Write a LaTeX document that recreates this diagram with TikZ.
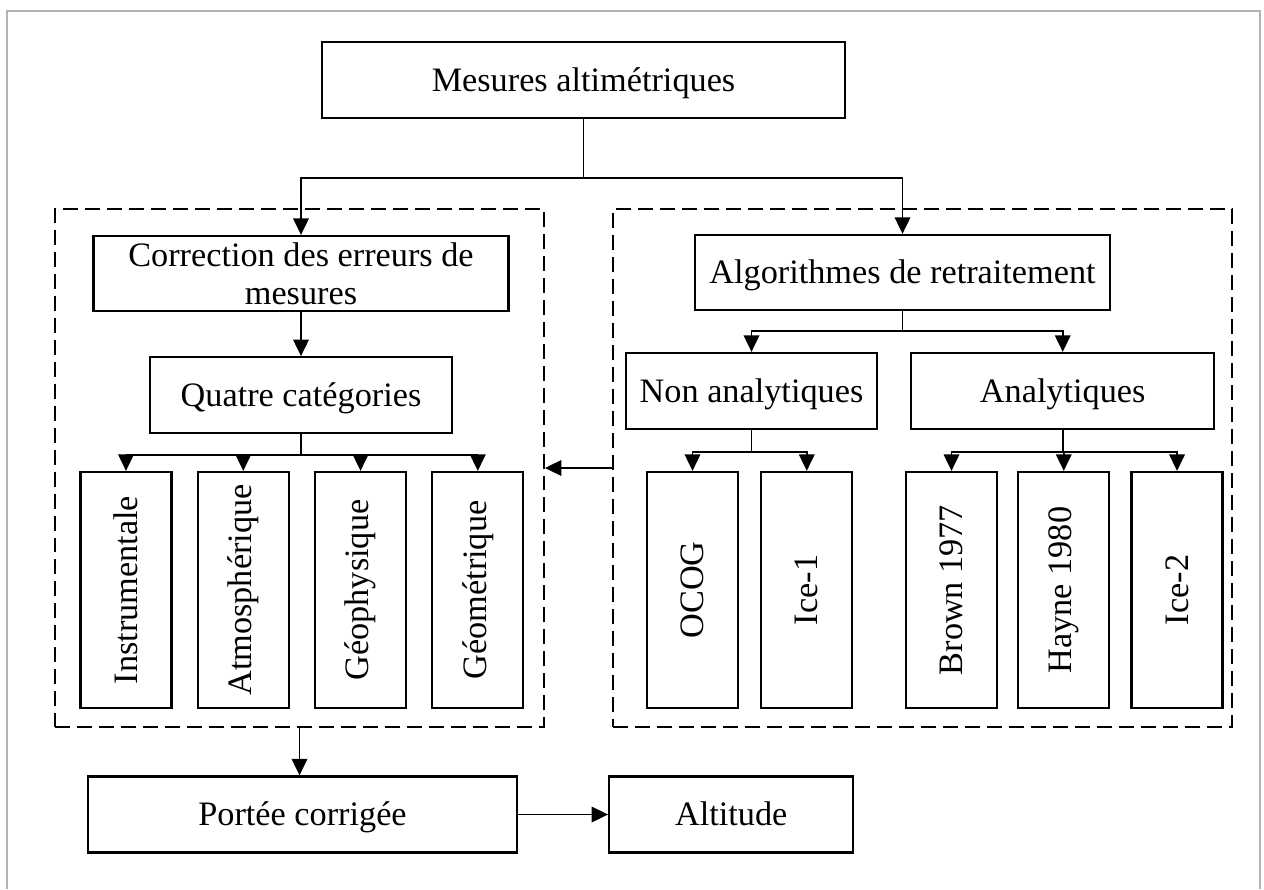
\documentclass[tikz,border=0pt]{standalone}
\usepackage{fontspec}
\setmainfont{Liberation Serif}
\usetikzlibrary{positioning,arrows.meta}

\begin{document}
\begin{tikzpicture}[x=0.02cm, y=0.02cm, >={Triangle[length=3.3mm,width=3.1mm]},
  box/.style = {draw, line width=1.3pt, inner sep=0pt, align=center, minimum height=1.52cm, font=\fontsize{19.5}{21.5}\selectfont},
  line/.style = {box, text height=15.5pt, text depth=2.5pt},
  col/.style = {box, minimum width=1.82cm, minimum height=4.72cm},
  group/.style = {draw, dash pattern=on 0.3cm off 0.14cm, line width=1.1pt, inner sep=0pt},
  link/.style = {->, line width=1.1pt}]

\useasboundingbox (0,0) rectangle (1264,-889);
\draw[gray!60, line width=1pt] (7,-889) -- (7,-11) -- (1260,-11) -- (1260,-889);

% dashed groups
\node[group, minimum width=9.78cm, minimum height=10.38cm] (leftgrp) at (299.5,-468) {};
\node[group, minimum width=12.38cm, minimum height=10.36cm] (rightgrp) at (922.5,-468) {};

\node[line, minimum width=10.46cm] (mesures) at (583.5,-80) {Mesures altimétriques};

% corrections
\node[box, minimum width=8.3cm, minimum height=1.5cm] (corr) at (301,-273.5) {Correction des erreurs de\\mesures};
\node[line, minimum width=6.04cm] (quatre) [below=0.88cm of corr] {Quatre catégories};
\node[col] (instr) at (126,-590) {\rotatebox{90}{Instrumentale}};
\node[col] (atmo) [right=0.48cm of instr] {\rotatebox{90}{Atmosphérique}};
\node[col] (geoph) [right=0.48cm of atmo] {\rotatebox{90}{Géophysique}};
\node[col] (geom) [right=0.48cm of geoph] {\rotatebox{90}{Géométrique}};

% retraitement
\node[line, minimum width=8.3cm, minimum height=1.5cm] (algo) at (902.5,-272.5) {Algorithmes de retraitement};
\node[line, minimum width=5.02cm] (nonana) at (751.5,-391) {Non analytiques};
\node[line, minimum width=6.06cm] (ana) [right=0.64cm of nonana] {Analytiques};
\node[col] (ocog) at (692.5,-590) {\rotatebox{90}{OCOG}};
\node[col] (iceone) [right=0.42cm of ocog] {\rotatebox{90}{Ice-1}};
\node[col] (brown) at (951.5,-590) {\rotatebox{90}{Brown 1977}};
\node[col] (hayne) [right=0.38cm of brown] {\rotatebox{90}{Hayne 1980}};
\node[col] (icetwo) [right=0.4cm of hayne] {\rotatebox{90}{Ice-2}};

% results
\node[line, minimum width=8.58cm] (portee) at (302.5,-814.5) {Portée corrigée};
\node[line, minimum width=4.88cm] (alt) [right=1.8cm of portee] {Altitude};

\draw[link] (mesures.south) -- ++(0,-59) -| (corr.north);
\draw[link] (mesures.south) -- ++(0,-59) -| (algo.north);
\path[link]
    (corr) edge (quatre)
    (rightgrp.west) edge (leftgrp.east)
    (portee) edge (alt);
\draw[link] (quatre.south) -- ++(0,-21) -| (instr.north);
\draw[link] (quatre.south) -- ++(0,-21) -| (atmo.north);
\draw[link] (quatre.south) -- ++(0,-21) -| (geoph.north);
\draw[link] (quatre.south) -- ++(0,-21) -| (geom.north);
\draw[link] (algo.south) -- ++(0,-20) -| (nonana.north);
\draw[link] (algo.south) -- ++(0,-20) -| (ana.north);
\draw[link] (nonana.south) -- ++(0,-22) -| (ocog.north);
\draw[link] (nonana.south) -- ++(0,-22) -| (iceone.north);
\draw[link] (ana.south) -- ++(0,-22) -| (brown.north);
\draw[link] (ana.south) -- ++(0,-22) -| (hayne.north);
\draw[link] (ana.south) -- ++(0,-22) -| (icetwo.north);
\draw[link] (leftgrp.south) -- (leftgrp.south |- portee.north);
\end{tikzpicture}
\end{document}
